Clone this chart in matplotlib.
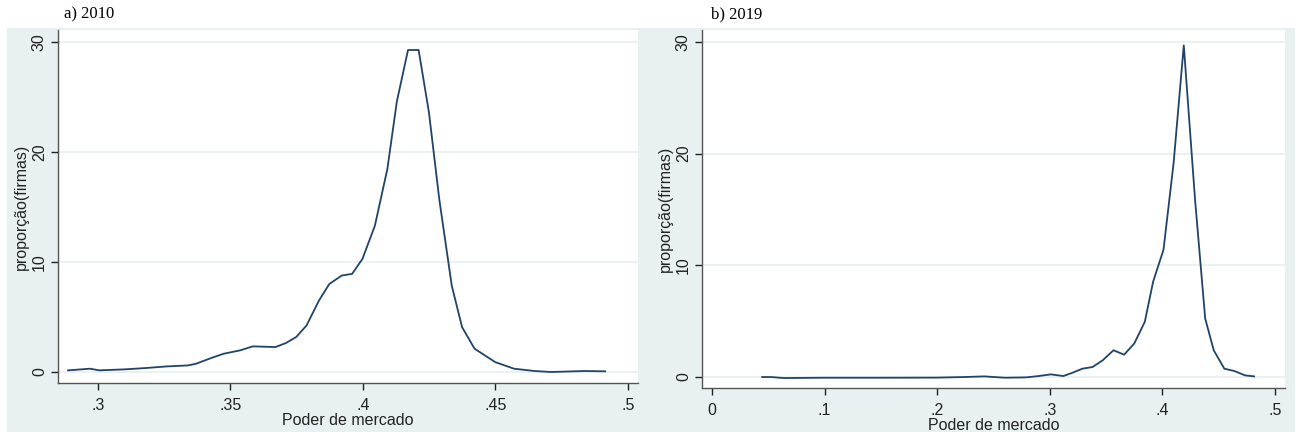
import matplotlib.pyplot as plt

plt.rcParams['font.family'] = ['Liberation Sans', 'DejaVu Sans']

# 2010 kernel density
x_2010 = [0.2887, 0.297, 0.3005, 0.310, 0.318, 0.3255, 0.334, 0.337, 0.3427, 0.3474,
          0.3537, 0.3584, 0.367, 0.3709, 0.3748, 0.3787, 0.3834, 0.3873, 0.392, 0.3959,
          0.3998, 0.4045, 0.4092, 0.4128, 0.417, 0.421, 0.4249, 0.4288, 0.4335, 0.4374,
          0.4421, 0.4499, 0.457, 0.4648, 0.471, 0.4836, 0.4914]
y_2010 = [0.15, 0.3, 0.15, 0.24, 0.36, 0.5, 0.6, 0.75, 1.27, 1.66,
          1.97, 2.33, 2.27, 2.63, 3.18, 4.23, 6.5, 8.0, 8.77, 8.92,
          10.28, 13.3, 18.45, 24.6, 29.27, 29.27, 23.6, 15.7, 7.86, 4.08,
          2.12, 0.9, 0.3, 0.09, 0.0, 0.09, 0.06]

# 2019 kernel density
x_2019 = [0.0445, 0.0526, 0.0638, 0.10, 0.15, 0.20, 0.223, 0.2417, 0.260, 0.279,
          0.290, 0.301, 0.312, 0.3195, 0.329, 0.338, 0.347, 0.3566, 0.366, 0.375,
          0.3844, 0.3918, 0.401, 0.410, 0.419, 0.429, 0.438, 0.4456, 0.455, 0.464,
          0.4734, 0.4815]
y_2019 = [0.0, 0.0, -0.09, -0.06, -0.06, -0.05, 0.0, 0.06, -0.06, -0.03,
          0.09, 0.24, 0.09, 0.36, 0.75, 0.9, 1.5, 2.4, 2.0, 3.0,
          4.95, 8.55, 11.4, 19.2, 29.7, 15.9, 5.25, 2.4, 0.75, 0.54,
          0.15, 0.06]

yticks = [0, 10, 20, 30]
xticks_2010 = [0.3, 0.35, 0.4, 0.45, 0.5]
xlabels_2010 = [".3", ".35", ".4", ".45", ".5"]
xticks_2019 = [0, 0.1, 0.2, 0.3, 0.4, 0.5]
xlabels_2019 = ["0", ".1", ".2", ".3", ".4", ".5"]

W, H = 1304, 437
bg = "#e9f0f2"
navy = "#1f4468"
axcol = "#555555"

fig = plt.figure(figsize=(W / 100, H / 100), dpi=100)


def px_axes(x0, x1, top, bottom):
    return fig.add_axes([x0 / W, 1 - bottom / H, (x1 - x0) / W, (bottom - top) / H])


# light graph region behind both panels
back = px_axes(7, 1295, 28, 432)
back.set_facecolor(bg)
back.set_xticks([])
back.set_yticks([])
for s in back.spines.values():
    s.set_visible(False)


def style(ax, xs, ys, xticks, xlabels, xlim, ylim, title, title_x):
    ax.plot(xs, ys, color=navy, lw=1.3)
    ax.set_xlim(*xlim)
    ax.set_ylim(*ylim)
    ax.set_xticks(xticks)
    ax.set_xticklabels(xlabels)
    ax.set_yticks(yticks)
    ax.set_yticklabels([str(t) for t in yticks], rotation=90, va="center")
    for t in yticks:
        ax.axhline(t, color="#e8eff1", lw=1.2, zorder=0)
    for s in ["top", "right"]:
        ax.spines[s].set_visible(False)
    for s in ["left", "bottom"]:
        ax.spines[s].set_color(axcol)
        ax.spines[s].set_linewidth(1.0)
    ax.tick_params(colors="#222222", labelsize=11.5, length=5, width=1.0, direction="out")
    ax.tick_params(axis="x", pad=6)
    ax.tick_params(axis="y", pad=3)
    ax.set_xlabel("Poder de mercado", fontsize=11.5, labelpad=0, color="#222222")
    ax.set_ylabel("proporção(firmas)", fontsize=11.5, labelpad=2, color="#222222")
    fig.text(title_x / W, 1 - 14 / H, title, family="Liberation Serif", fontsize=12,
             va="center", ha="left")


ax1 = px_axes(58, 638, 30, 383)
style(ax1, x_2010, y_2010, xticks_2010, xlabels_2010, (0.2849, 0.5038), (-1.0, 31.09),
      "a) 2010", 64)

ax2 = px_axes(702, 1285, 30, 388)
style(ax2, x_2019, y_2019, xticks_2019, xlabels_2019, (-0.0089, 0.5089), (-0.98, 31.07),
      "b) 2019", 711)

fig.savefig("out.png", dpi=100, facecolor="white")
